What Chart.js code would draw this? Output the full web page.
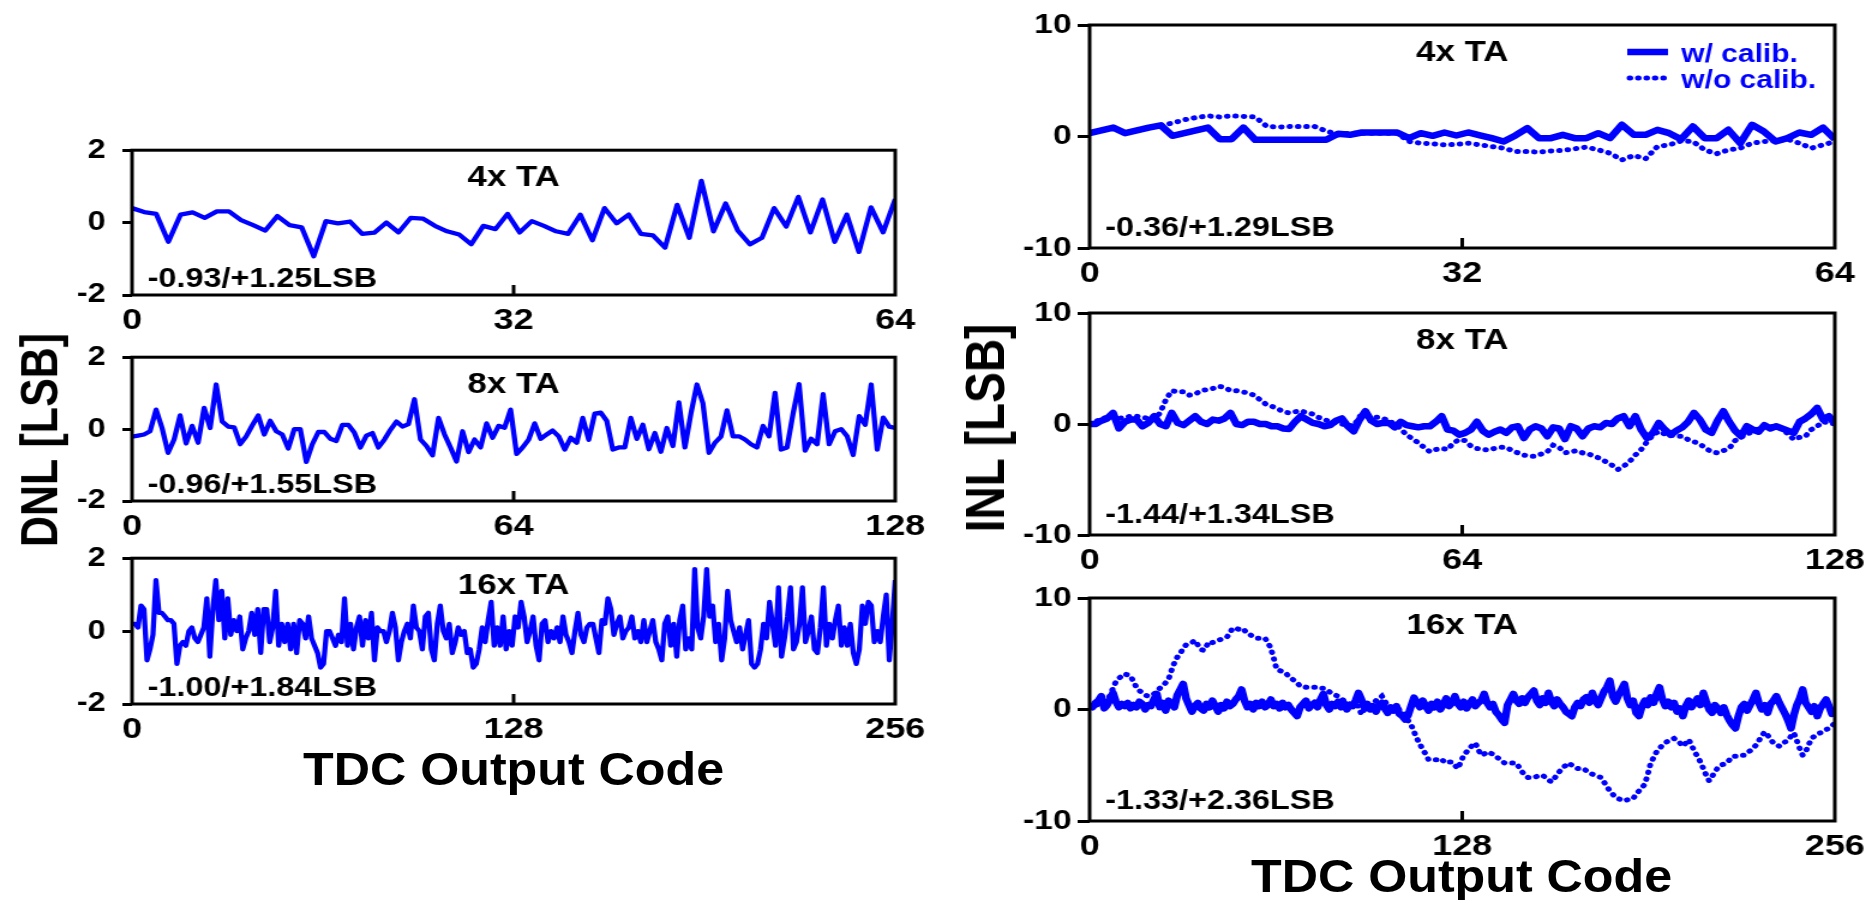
<!DOCTYPE html>
<html>
<head>
<meta charset="utf-8">
<script src="https://cdn.jsdelivr.net/npm/chart.js@4.4.1/dist/chart.umd.min.js"></script>
<style>
  html, body { margin: 0; padding: 0; background: #fff; }
  body { width: 1864px; height: 900px; overflow: hidden; position: relative; }
  #fig { position: absolute; left: 0; top: 0; width: 1554px; height: 900px;
         transform: scaleX(1.2); transform-origin: 0 0; }
  #fig canvas { position: absolute; }
  .lbl { position: absolute; font-family: "Liberation Sans", Arial, sans-serif; font-weight: bold;
         color: #000; white-space: nowrap; line-height: 1; }
</style>
</head>
<body>
<div id="fig">
  <canvas id="dnl4"></canvas>
  <canvas id="dnl8"></canvas>
  <canvas id="dnl16"></canvas>
  <canvas id="inl4"></canvas>
  <canvas id="inl8"></canvas>
  <canvas id="inl16"></canvas>
  <div class="lbl" style="left:33px;top:440px;font-size:43px;transform:translate(-50%,-50%) rotate(-90deg);">DNL [LSB]</div>
  <div class="lbl" style="left:821px;top:428px;font-size:46px;transform:translate(-50%,-50%) rotate(-90deg);">INL [LSB]</div>
  <div class="lbl" style="left:428px;top:745px;font-size:47px;line-height:47px;transform:translateX(-50%) scaleX(0.89);">TDC Output Code</div>
  <div class="lbl" style="left:1218px;top:852px;font-size:47px;line-height:47px;transform:translateX(-50%) scaleX(0.89);">TDC Output Code</div>
</div>
<script>
// ---------------- data ----------------
const codeRanges = [64, 128, 256];
const xTicks4 = [0, 32, 64];
const xTicks8 = [0, 64, 128];
const xTicks16 = [0, 128, 256];
const dnlTicks = [-2, 0, 2];
const inlTicks = [-10, 0, 10];
const taLabels = ['4x TA', '8x TA', '16x TA'];
const dnlRanges = ['-0.93/+1.25LSB', '-0.96/+1.55LSB', '-1.00/+1.84LSB'];
const inlRanges = ['-0.36/+1.29LSB', '-1.44/+1.34LSB', '-1.33/+2.36LSB'];
const legendLabels = ['w/ calib.', 'w/o calib.'];

const dnl4 = [0.40,0.29,0.24,-0.53,0.22,0.28,0.13,0.31,0.31,0.07,
  -0.07,-0.22,0.18,-0.07,-0.13,-0.93,0.04,-0.02,0.03,-0.31,
  -0.28,0.00,-0.27,0.13,0.11,-0.09,-0.24,-0.33,-0.60,-0.09,
  -0.18,0.24,-0.27,0.04,-0.09,-0.24,-0.31,0.22,-0.49,0.40,
  -0.02,0.22,-0.31,-0.35,-0.69,0.49,-0.42,1.15,-0.24,0.53,
  -0.22,-0.60,-0.42,0.40,-0.11,0.71,-0.27,0.64,-0.53,0.22,
  -0.81,0.42,-0.27,0.65];

const dnl8 = [-0.21,-0.18,-0.15,-0.06,0.54,0.03,-0.66,-0.29,0.38,-0.40,
  0.09,-0.38,0.59,0.03,1.24,0.21,0.07,0.05,-0.42,-0.20,
  0.10,0.38,-0.15,0.23,-0.06,-0.15,-0.54,0.00,0.00,-0.91,
  -0.42,-0.08,-0.08,-0.27,-0.33,0.12,0.12,-0.10,-0.51,-0.18,
  -0.11,-0.51,-0.29,-0.02,0.21,0.07,0.14,0.83,-0.29,-0.47,
  -0.73,0.31,-0.15,-0.51,-0.90,-0.06,-0.64,-0.29,-0.51,0.16,
  -0.24,0.09,0.04,0.54,-0.69,-0.51,-0.29,0.16,-0.27,-0.15,
  -0.04,-0.20,-0.57,-0.24,-0.38,0.31,-0.30,0.43,0.46,0.23,
  -0.57,-0.51,-0.51,0.31,-0.27,0.12,-0.56,-0.11,-0.63,0.03,
  -0.47,0.74,-0.51,0.43,1.24,0.72,-0.66,-0.38,-0.21,0.52,
  -0.20,-0.20,-0.29,-0.42,-0.51,0.09,-0.20,1.01,-0.57,-0.51,
  0.43,1.25,-0.60,-0.27,-0.42,0.97,-0.42,-0.06,0.00,-0.20,
  -0.72,0.36,0.12,1.24,-0.57,0.32,0.07,0.03];

const dnl16 = [0.2,0.2,0.1,0.7,0.6,-0.8,-0.5,-0.1,1.4,0.5,0.5,0.4,0.3,0.3,0.2,-0.9,
  -0.4,-0.3,-0.4,0.0,0.1,-0.2,-0.3,-0.1,0.1,0.9,-0.7,0.6,1.4,0.3,1.1,-0.2,
  0.9,-0.1,0.3,0.0,0.4,-0.5,-0.2,0.0,0.5,-0.1,0.6,-0.6,0.6,0.6,-0.3,0.1,
  1.1,-0.4,0.2,-0.3,0.2,-0.5,0.2,-0.6,0.3,0.2,-0.2,0.4,-0.2,-0.4,-0.6,-1.0,
  -0.9,0.0,0.0,-0.2,-0.4,-0.1,-0.3,0.9,-0.4,0.2,-0.5,0.1,0.4,-0.4,0.3,-0.2,
  0.5,-0.8,0.1,0.0,0.0,-0.3,0.0,0.5,0.1,-0.8,-0.3,0.0,0.2,-0.2,0.7,0.1,
  0.0,-0.5,0.4,0.5,-0.5,-0.8,0.2,0.7,0.0,-0.2,0.2,-0.6,-0.3,0.1,-0.1,0.0,
  -0.6,-0.5,-1.0,-0.9,-0.5,0.1,-0.3,0.3,0.8,-0.4,0.1,-0.4,0.4,-0.5,0.0,-0.4,
  0.4,0.1,0.8,0.4,-0.3,0.0,0.4,-0.4,-0.8,0.2,0.3,-0.3,0.0,-0.2,0.1,-0.3,
  0.4,-0.1,-0.3,-0.6,0.0,0.5,-0.1,-0.3,0.1,0.2,0.2,-0.2,-0.6,0.3,0.2,0.9,
  0.6,-0.1,0.2,0.4,-0.2,0.0,0.1,0.4,-0.2,0.0,-0.3,0.3,-0.3,0.0,0.3,-0.3,
  -0.5,-0.8,0.2,0.4,-0.4,0.2,-0.7,0.3,0.7,-0.5,-0.2,-0.5,1.7,0.1,-0.2,0.4,
  1.7,0.4,0.7,-0.3,0.2,-0.8,-0.2,1.1,0.3,0.0,-0.3,0.1,-0.5,-0.1,0.3,-0.9,
  -1.0,-0.9,-0.5,0.2,-0.2,0.8,0.2,-0.4,1.2,-0.7,-0.2,0.4,1.2,-0.5,-0.3,0.2,
  1.2,-0.3,0.0,0.4,-0.5,-0.6,0.1,1.2,-0.4,0.2,-0.2,0.3,0.7,-0.4,0.1,-0.4,
  0.2,-0.6,-0.9,-0.5,0.7,0.2,0.8,0.7,-0.3,0.0,-0.3,0.4,1.0,-0.8,0.2,1.4];

const inl4Cal = [0.3,0.55,0.8,0.3,0.55,0.8,1.0,0.06,0.3,0.55,
  0.8,-0.24,-0.24,0.8,-0.3,-0.3,-0.3,-0.3,-0.3,-0.3,
  -0.3,0.24,0.15,0.36,0.36,0.36,0.36,-0.15,0.3,0.06,
  0.36,0.09,0.36,0.1,-0.15,-0.45,0.1,0.75,-0.15,-0.15,
  0.15,-0.15,-0.15,0.3,-0.15,1.05,0.15,0.15,0.6,0.3,
  -0.24,0.9,-0.15,-0.15,0.6,-0.6,1.05,0.45,-0.45,-0.15,
  0.36,0.15,0.8,-0.24];
const inl4Raw = [0.3,0.55,0.8,0.3,0.55,0.8,1.0,1.2,1.5,1.7,
  1.85,1.75,1.85,1.8,1.75,0.9,0.85,0.9,0.9,0.9,
  0.5,0.15,0.3,0.3,0.3,0.3,0.3,-0.45,-0.6,-0.65,
  -0.75,-0.7,-0.6,-0.75,-0.9,-1.05,-1.35,-1.35,-1.4,-1.3,
  -1.25,-1.1,-0.95,-1.2,-1.5,-2.1,-1.7,-2.0,-0.9,-0.75,
  -0.4,-0.45,-1.2,-1.55,-1.2,-1.05,-0.6,-0.45,-0.4,-0.25,
  -0.6,-1.05,-0.75,-0.45];

const inl8Cal = [0.0,0.0,0.3,0.5,1.0,-0.4,0.2,0.4,0.4,-0.2,
  0.1,0.7,0.0,-0.2,1.0,0.1,-0.1,0.3,0.7,0.2,
  0.0,0.4,0.3,0.5,1.0,0.0,-0.1,0.2,0.2,0.0,
  0.0,-0.2,-0.2,-0.4,-0.45,0.2,0.7,0.4,0.1,0.0,
  -0.2,-0.1,0.3,0.5,-0.2,-0.66,0.4,1.15,0.3,0.0,
  0.1,0.1,-0.3,0.2,-0.1,-0.2,-0.3,-0.2,-0.2,0.2,
  0.7,-0.5,-0.6,-0.97,-0.8,-0.5,0.2,-0.6,-0.97,-0.7,
  -0.5,-0.8,-0.3,-0.2,-1.27,-0.5,-0.2,-0.4,-1.1,-0.3,
  -0.4,-1.36,-0.2,-0.4,-1.1,-0.4,-0.2,-0.3,0.1,0.0,
  0.5,0.7,-0.2,0.7,-0.5,-1.27,-0.8,0.1,-0.5,-0.97,
  -0.6,-0.3,0.2,1.0,0.4,-0.5,-0.8,0.3,1.15,0.2,
  -0.6,-1.1,-0.2,-0.5,-0.7,-0.1,-0.4,-0.2,-0.4,-0.6,
  -0.8,0.2,0.5,0.9,1.45,0.4,0.7,0.0];
const inl8Raw = [0.0,0.2,0.5,0.6,0.7,0.5,0.6,0.7,0.7,0.6,
  0.5,0.4,1.0,2.2,3.0,2.9,2.9,2.6,2.7,3.0,
  3.1,3.2,3.4,3.3,3.0,3.0,2.9,2.8,2.6,2.2,
  1.8,1.6,1.4,1.1,1.0,1.1,1.2,1.0,0.9,0.6,
  0.4,0.2,0.1,0.0,-0.1,-0.2,0.7,0.7,0.6,0.6,
  0.5,0.3,0.0,-0.4,-1.0,-1.3,-1.7,-2.1,-2.5,-2.3,
  -2.2,-2.3,-1.7,-1.4,-1.5,-2.0,-2.2,-2.3,-2.35,-2.2,
  -2.1,-2.1,-2.4,-2.6,-2.8,-2.9,-2.9,-2.7,-2.5,-1.9,
  -2.1,-2.6,-2.5,-2.4,-2.6,-2.7,-2.9,-3.1,-3.4,-3.7,
  -4.1,-3.8,-3.4,-2.8,-2.3,-1.6,-1.0,-0.66,-0.9,-1.0,
  -1.1,-1.1,-1.4,-1.6,-1.8,-2.2,-2.5,-2.6,-2.4,-2.2,
  -1.5,-1.2,-0.9,-0.7,-0.4,-0.2,-0.2,-0.3,-0.4,-0.9,
  -1.4,-1.2,-1.1,-0.5,-0.2,0.2,0.1,0.0];

const inl16Cal = [0.3,0.2,0.6,0.8,1.2,0.1,0.4,0.9,1.5,0.7,0.2,0.5,0.3,0.6,0.1,0.4,
  0.2,0.7,0.5,0.0,0.4,0.3,0.9,1.4,0.2,0.6,-0.1,0.8,0.5,0.2,1.3,1.8,
  2.3,1.0,0.4,-0.2,0.3,0.6,0.1,-0.1,0.5,0.2,0.8,0.3,-0.2,0.4,0.1,0.7,
  0.3,0.5,0.9,1.2,1.8,0.8,0.2,0.5,0.0,0.6,0.3,0.7,0.2,0.4,0.9,0.3,
  0.5,0.1,0.6,0.2,0.4,0.0,-0.3,-0.6,0.2,0.5,0.8,0.1,0.4,0.6,0.2,0.9,
  1.4,0.4,0.0,0.5,0.3,0.7,0.2,0.6,0.0,0.4,0.3,0.8,1.5,0.9,0.2,0.5,
  0.0,0.3,-0.2,0.4,0.6,0.1,-0.3,0.2,-0.1,0.3,-0.4,-0.6,-0.9,-0.5,0.3,1.06,
  0.6,0.2,0.8,0.3,-0.1,0.5,0.2,0.7,0.0,0.4,1.0,0.3,0.6,1.2,0.5,0.2,
  0.7,0.1,0.5,0.9,0.3,0.6,0.8,1.4,0.6,0.2,0.5,-0.2,-0.5,-0.9,-1.2,0.4,
  0.9,1.4,0.8,0.5,1.0,0.6,1.1,1.4,1.7,0.8,0.4,1.0,0.6,1.5,0.7,0.3,
  0.9,0.5,0.2,-0.2,-0.4,-0.6,0.2,0.6,0.3,0.9,1.1,0.6,1.5,0.8,0.4,1.0,
  1.6,2.0,2.6,1.2,0.7,1.3,1.8,2.3,1.0,0.4,0.8,-0.3,-0.6,0.3,0.8,0.4,
  1.1,0.6,1.4,2.0,0.9,0.3,0.7,0.2,0.6,-0.2,0.1,-0.6,0.3,0.8,0.2,0.6,
  1.0,0.4,1.5,0.7,0.0,-0.3,0.4,0.1,-0.3,0.2,-0.5,-1.0,-1.4,-1.7,-0.6,0.2,
  0.5,-0.1,0.4,0.9,1.5,0.6,0.0,0.4,-0.3,0.5,0.8,1.2,0.6,0.1,-0.4,-1.0,
  -1.7,-0.5,0.4,1.0,1.8,0.6,0.2,-0.2,0.3,-0.6,0.1,0.5,0.9,0.3,-0.4,0.0];
const inl16Raw = [0.15,0.2,0.3,0.5,0.6,0.7,0.8,1.3,1.9,2.5,2.8,3.0,3.2,3.1,3.0,2.5,
  2.0,1.7,1.5,1.3,1.2,1.3,1.4,1.6,1.9,2.1,2.4,2.7,3.5,4.2,4.7,5.0,
  5.5,5.8,5.9,6.0,6.2,5.8,5.4,5.3,5.7,6.1,6.0,6.1,6.2,6.3,6.4,6.5,
  6.9,7.3,7.3,7.2,7.3,7.1,6.8,6.7,6.5,6.4,6.4,6.4,6.4,6.0,5.5,4.6,
  3.6,3.5,3.4,3.3,3.0,2.8,2.6,2.4,2.1,2.1,2.0,2.0,2.0,2.0,2.0,1.9,
  1.9,1.8,1.6,1.4,1.3,1.2,1.0,0.8,0.6,0.5,0.4,0.35,0.3,-0.45,0.0,0.2,
  0.3,0.5,0.8,1.0,1.2,0.8,0.3,0.2,0.15,0.15,0.0,-0.2,-0.6,-1.0,-1.36,-2.0,
  -2.6,-3.1,-3.6,-4.0,-4.5,-4.5,-4.5,-4.5,-4.4,-4.6,-4.8,-4.7,-4.7,-5.0,-5.3,-4.7,
  -4.1,-3.8,-3.5,-3.2,-3.0,-3.6,-4.1,-4.0,-3.8,-3.9,-4.0,-4.2,-4.4,-4.6,-4.8,-4.8,
  -4.8,-4.8,-4.8,-5.2,-5.6,-5.9,-6.1,-6.1,-6.1,-6.0,-5.9,-5.9,-6.1,-6.3,-6.5,-6.2,
  -5.8,-5.5,-5.2,-5.0,-4.8,-5.0,-5.2,-5.3,-5.3,-5.3,-5.5,-5.7,-5.8,-5.9,-6.0,-6.1,
  -6.5,-6.9,-7.3,-7.6,-7.9,-8.0,-8.1,-8.2,-8.1,-8.0,-8.0,-7.6,-7.3,-7.0,-6.7,-5.8,
  -4.8,-4.3,-3.8,-3.5,-3.2,-3.0,-2.8,-2.7,-2.6,-2.8,-3.0,-3.3,-3.0,-2.7,-3.2,-3.8,
  -4.2,-4.7,-5.3,-5.9,-6.4,-6.0,-5.6,-5.2,-5.0,-4.9,-4.8,-4.5,-4.2,-4.2,-4.1,-4.1,
  -4.1,-3.9,-3.7,-3.5,-3.2,-2.8,-2.4,-2.0,-2.3,-2.7,-3.0,-3.1,-3.3,-3.1,-2.9,-2.8,
  -2.4,-2.1,-2.8,-3.5,-4.1,-3.8,-3.2,-2.6,-2.4,-2.2,-2.1,-2.0,-1.8,-1.7,-1.5,-1.2];

// ---------------- drawing ----------------
const FONT = '"Liberation Sans", Arial, Helvetica, sans-serif';
const BLUE = '#0000ff';
const DOTS = [0.5, 6.5];

function toXY(vals, xmax) {
  return vals.map((v, i) => ({ x: i * xmax / (vals.length - 1), y: v }));
}

const framePlugin = {
  id: 'frame',
  afterDraw(chart, args, o) {
    const { ctx, chartArea: { left, right, top, bottom } } = chart;
    ctx.save();
    ctx.strokeStyle = '#000';
    ctx.lineWidth = 3;
    ctx.strokeRect(left, top, right - left, bottom - top);
    const xs = chart.scales.x;
    const xm = xs.getPixelForValue(o.midTick);
    ctx.beginPath();
    ctx.moveTo(xm, bottom);
    ctx.lineTo(xm, bottom - 10);
    ctx.stroke();
    ctx.fillStyle = '#000';
    ctx.textBaseline = 'alphabetic';
    ctx.textAlign = 'center';
    ctx.font = 'bold 29px ' + FONT;
    ctx.fillText(o.title, (left + right) / 2, top + 36);
    ctx.textAlign = 'left';
    ctx.font = 'bold 27px ' + FONT;
    ctx.fillText(o.note, left + 13, bottom - o.noteOff);
    if (o.legend) {
      ctx.strokeStyle = BLUE;
      ctx.fillStyle = BLUE;
      ctx.lineWidth = 6.5;
      ctx.beginPath(); ctx.moveTo(right - 173, top + 27); ctx.lineTo(right - 139, top + 27); ctx.stroke();
      ctx.lineWidth = 5;
      ctx.lineCap = 'round';
      ctx.setLineDash(DOTS);
      ctx.beginPath(); ctx.moveTo(right - 171, top + 53); ctx.lineTo(right - 139, top + 53); ctx.stroke();
      ctx.setLineDash([]);
      ctx.lineCap = 'butt';
      ctx.font = 'bold 25px ' + FONT;
      ctx.fillText(o.legend[0], right - 128, top + 37);
      ctx.fillText(o.legend[1], right - 128, top + 63);
    }
    ctx.restore();
  }
};

function makeChart(id, cfg) {
  const cv = document.getElementById(id);
  const W = (cfg.R - cfg.L) + cfg.Wy + cfg.pr;
  const H = (cfg.B - cfg.T) + cfg.pt + cfg.Hx;
  cv.width = W; cv.height = H;
  cv.style.width = W + 'px'; cv.style.height = H + 'px';
  cv.style.left = (cfg.L - cfg.Wy) + 'px';
  cv.style.top = (cfg.T - cfg.pt) + 'px';
  const xTicks = cfg.xTicks, yTicks = cfg.yTicks;
  return new Chart(cv, {
    type: 'line',
    data: { datasets: cfg.datasets },
    options: {
      responsive: false,
      animation: false,
      devicePixelRatio: 1,
      events: [],
      layout: { padding: { top: cfg.pt, right: cfg.pr, left: 0, bottom: 0 } },
      elements: { point: { radius: 0 }, line: { tension: 0 } },
      plugins: {
        legend: { display: false },
        tooltip: { enabled: false },
        frame: { title: cfg.title, note: cfg.note, noteOff: cfg.noteOff, midTick: xTicks[1], legend: cfg.legend }
      },
      scales: {
        x: {
          type: 'linear',
          min: xTicks[0], max: xTicks[2],
          afterFit(s) { s.height = cfg.Hx; },
          afterBuildTicks(s) { s.ticks = xTicks.map(v => ({ value: v })); },
          border: { display: false },
          grid: { display: false },
          ticks: { autoSkip: false, maxRotation: 0, padding: 0, color: '#000',
                   font: { family: FONT, size: 30, weight: 'bold' } }
        },
        y: {
          min: yTicks[0], max: yTicks[2],
          afterFit(s) { s.width = cfg.Wy; },
          afterBuildTicks(s) { s.ticks = yTicks.map(v => ({ value: v })); },
          border: { display: false },
          grid: { drawOnChartArea: false, drawTicks: true, tickLength: cfg.tickLen, color: '#000', lineWidth: 3 },
          ticks: { padding: cfg.tickPad, color: '#000', font: { family: FONT, size: cfg.yFont, weight: 'bold' } }
        }
      }
    },
    plugins: [framePlugin]
  });
}

function solid(vals, xmax, w) {
  return { data: toXY(vals, xmax), borderColor: BLUE, borderWidth: w, borderJoinStyle: 'round', fill: false, pointRadius: 0 };
}
function dotted(vals, xmax) {
  return { data: toXY(vals, xmax), borderColor: BLUE, borderWidth: 5, borderDash: DOTS, borderCapStyle: 'round', fill: false, pointRadius: 0 };
}

const leftBase = { L: 110, R: 746, Wy: 60, pr: 32, pt: 25, Hx: 45, yTicks: dnlTicks, tickLen: 8, tickPad: 14, yFont: 27, noteOff: 8 };
const rightBase = { L: 908, R: 1529, Wy: 75, pr: 32, pt: 25, Hx: 45, yTicks: inlTicks, tickLen: 10, tickPad: 5, yFont: 28, noteOff: 12 };

makeChart('dnl4', Object.assign({}, leftBase, { T: 145, B: 295, xTicks: xTicks4, title: taLabels[0], note: dnlRanges[0],
  datasets: [solid(dnl4, codeRanges[0], 4.3)] }));
makeChart('dnl8', Object.assign({}, leftBase, { T: 352, B: 501, xTicks: xTicks8, title: taLabels[1], note: dnlRanges[1],
  datasets: [solid(dnl8, codeRanges[1], 4.3)] }));
makeChart('dnl16', Object.assign({}, leftBase, { T: 553, B: 704, xTicks: xTicks16, title: taLabels[2], note: dnlRanges[2],
  datasets: [solid(dnl16, codeRanges[2], 4.3)] }));

makeChart('inl4', Object.assign({}, rightBase, { T: 25, B: 248, xTicks: xTicks4, title: taLabels[0], note: inlRanges[0], legend: legendLabels,
  datasets: [solid(inl4Cal, codeRanges[0], 6.5), dotted(inl4Raw, codeRanges[0])] }));
makeChart('inl8', Object.assign({}, rightBase, { T: 313, B: 535, xTicks: xTicks8, title: taLabels[1], note: inlRanges[1],
  datasets: [solid(inl8Cal, codeRanges[1], 6.5), dotted(inl8Raw, codeRanges[1])] }));
makeChart('inl16', Object.assign({}, rightBase, { T: 598, B: 821, xTicks: xTicks16, title: taLabels[2], note: inlRanges[2],
  datasets: [solid(inl16Cal, codeRanges[2], 6.5), dotted(inl16Raw, codeRanges[2])] }));
</script>
</body>
</html>
